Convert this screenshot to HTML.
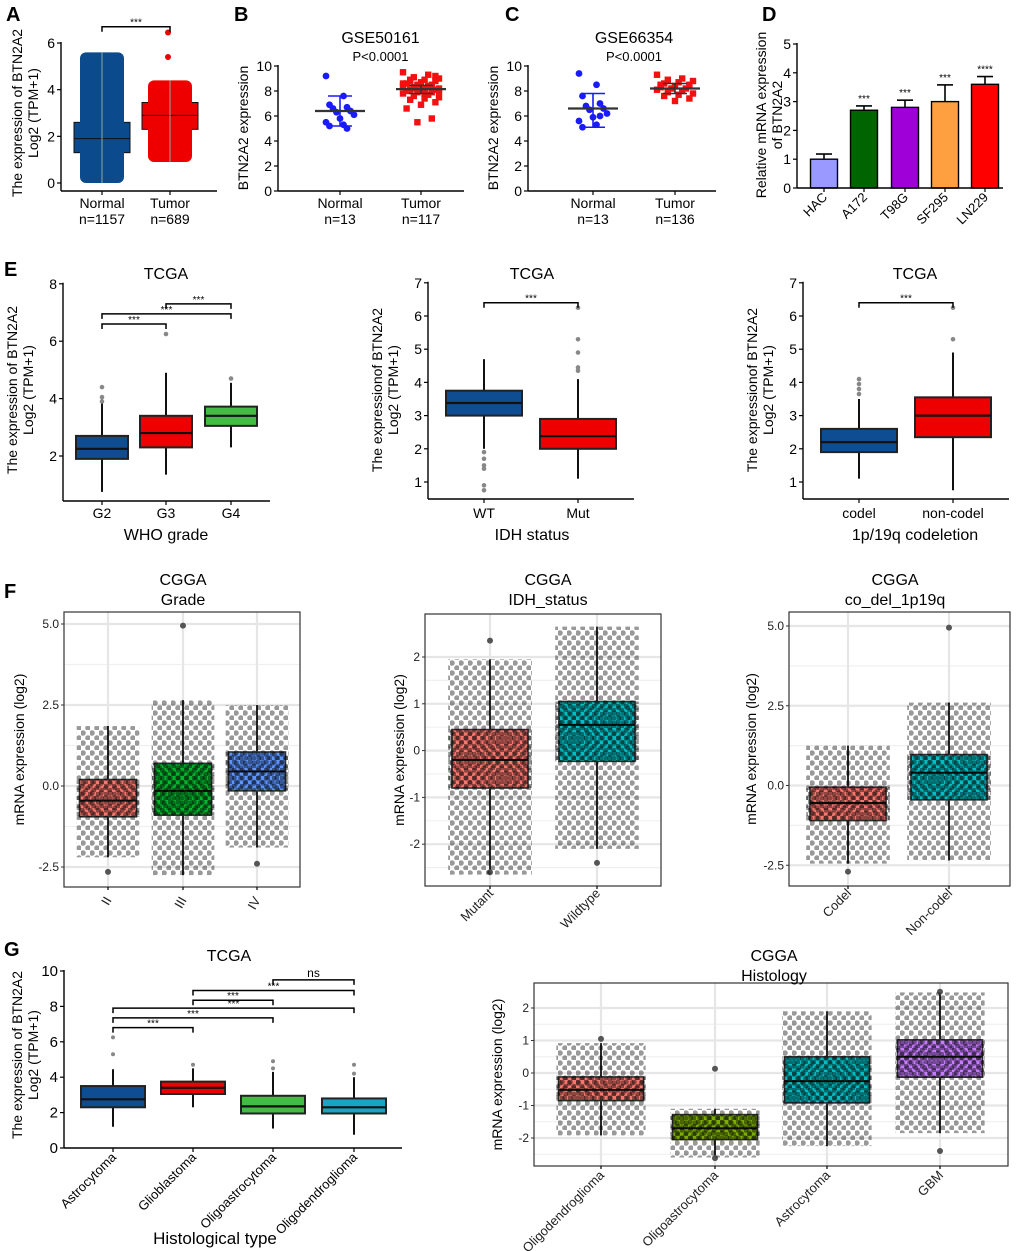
<!DOCTYPE html>
<html><head><meta charset="utf-8"><style>
body{margin:0;background:#fff}
svg{display:block;font-family:"Liberation Sans",sans-serif}
</style></head><body>
<svg id="fig" width="1020" height="1251" viewBox="0 0 1020 1251" xmlns="http://www.w3.org/2000/svg">
<defs>
<pattern id="dots" width="8" height="8" patternUnits="userSpaceOnUse">
<circle cx="2" cy="2" r="2.8" fill="#000" fill-opacity="0.42"/>
<circle cx="6" cy="6.5" r="2.8" fill="#000" fill-opacity="0.42"/>
</pattern>
<pattern id="dotsLight" width="9" height="10" patternUnits="userSpaceOnUse">
<circle cx="2" cy="3" r="2.8" fill="#000" fill-opacity="0.4"/>
<circle cx="7" cy="8" r="2.8" fill="#000" fill-opacity="0.4"/>
</pattern>
</defs>
<rect x="0" y="0" width="1020" height="1251" fill="#fff"/>
<g font-weight="bold" font-size="20">
<text x="6" y="21">A</text><text x="234" y="21">B</text><text x="505" y="21">C</text><text x="762" y="21">D</text>
<text x="4" y="276">E</text><text x="4" y="598">F</text><text x="4" y="956">G</text>
</g>
<g id="root"></g>
</svg>
<script>
// ---------- data ----------
const aCats=["Normal","Tumor"];const aLo=[0,0.9];const aQ1=[1.3,2.3];const aMed=[1.9,2.9];const aQ3=[2.6,3.45];const aHi=[5.6,4.4];
const aOut=[[],[5.4,6.45]];
const bNormal=[9.2,7.6,6.9,6.7,6.6,6.4,6.3,6.1,5.8,5.5,5.3,5.2,5.0];
const bTumor=[9.5,9.3,9.1,9.0,8.9,8.8,8.8,8.7,8.6,8.5,8.5,8.4,8.3,8.3,8.2,8.2,8.1,8.1,8.0,8.0,7.9,7.9,7.8,7.7,7.6,7.5,7.4,7.3,7.1,6.9,6.6,5.8,5.5,8.6,8.4,8.2,8.0,7.8,8.9,9.2];
const bMean=[6.4,8.15];const bLo=[5.2,7.8];const bHi=[7.6,8.45];
const cNormal=[9.4,8.5,7.6,7.0,6.8,6.6,6.5,6.2,5.9,5.6,5.3,5.1,6.0];
const cTumor=[9.3,9.0,8.9,8.8,8.7,8.6,8.5,8.4,8.3,8.2,8.2,8.1,8.0,7.9,7.8,7.7,7.6,7.4,7.2,8.5];
const cMean=[6.6,8.2];const cLo=[5.1,7.8];const cHi=[7.8,8.6];
const dCats=["HAC","A172","T98G","SF295","LN229"];const dVals=[1.0,2.7,2.8,3.0,3.6];const dErr=[0.18,0.15,0.25,0.58,0.27];
const dSig=["","***","***","***","****"];
const e1Cats=["G2","G3","G4"];const e1Lo=[0.75,1.35,2.3];const e1Q1=[1.9,2.3,3.05];const e1Med=[2.25,2.8,3.4];const e1Q3=[2.7,3.4,3.72];const e1Hi=[4.0,4.9,4.55];
const e1Out=[[3.9,4.05,4.4],[6.25],[4.7]];
const e2Cats=["WT","Mut"];const e2Lo=[2.0,1.1];const e2Q1=[3.0,2.0];const e2Med=[3.38,2.38];const e2Q3=[3.75,2.9];const e2Hi=[4.7,4.1];
const e2Out=[[0.75,0.9,1.4,1.5,1.7,1.9],[4.35,4.45,4.9,5.3,6.25]];
const e3Cats=["codel","non-codel"];const e3Lo=[1.1,0.75];const e3Q1=[1.9,2.35];const e3Med=[2.2,3.0];const e3Q3=[2.6,3.55];const e3Hi=[3.5,4.9];
const e3Out=[[3.65,3.8,3.95,4.1],[5.3,6.25]];
const f1Cats=["II","III","IV"];const f1Lo=[-2.2,-2.75,-1.9];const f1Q1=[-0.95,-0.9,-0.15];const f1Med=[-0.45,-0.15,0.45];const f1Q3=[0.2,0.7,1.05];const f1Hi=[1.85,2.65,2.5];
const f1Out=[[-2.65],[4.95],[-2.4]];
const f2Cats=["Mutant","Wildtype"];const f2Lo=[-2.65,-2.1];const f2Q1=[-0.8,-0.23];const f2Med=[-0.2,0.55];const f2Q3=[0.45,1.05];const f2Hi=[1.95,2.65];
const f2Out=[[2.35,-2.6],[-2.4]];
const f3Cats=["Codel","Non-codel"];const f3Lo=[-2.45,-2.35];const f3Q1=[-1.1,-0.45];const f3Med=[-0.55,0.4];const f3Q3=[-0.05,0.97];const f3Hi=[1.25,2.6];
const f3Out=[[-2.7],[4.95]];
const g1Cats=["Astrocytoma","Glioblastoma","Oligoastrocytoma","Oligodendroglioma"];
const g1Lo=[1.2,2.3,1.1,0.75];const g1Q1=[2.3,3.05,1.95,1.95];const g1Med=[2.75,3.4,2.35,2.3];const g1Q3=[3.5,3.75,2.95,2.8];const g1Hi=[4.45,4.5,4.3,4.0];
const g1Out=[[5.3,6.25],[4.7],[4.5,4.9],[4.2,4.7]];
const g2Cats=["Oligodendroglioma","Oligoastrocytoma","Astrocytoma","GBM"];
const g2Lo=[-1.92,-2.6,-2.25,-1.85];const g2Q1=[-0.85,-2.05,-0.92,-0.13];const g2Med=[-0.52,-1.7,-0.25,0.5];const g2Q3=[-0.12,-1.28,0.5,1.02];const g2Hi=[0.92,-1.1,1.9,2.48];
const g2Out=[[1.05],[0.13,-2.62],[],[2.5,-2.4]];
const aSig=[[0,1,6.7,"***"]];
const e1Sig=[[0,1,6.6,"***"],[0,2,6.95,"***"],[1,2,7.3,"***"]];
const e2Sig=[[0,1,6.4,"***"]];const e3Sig=[[0,1,6.4,"***"]];
const g1Sig=[[0,1,6.8,"***"],[0,2,7.35,"***"],[0,3,7.9,"***"],[1,2,8.35,"***"],[1,3,8.9,"***"],[2,3,9.5,"ns"]];
const e1Ticks=[2,4,6,8];const e23Ticks=[1,2,3,4,5,6,7];const g1Ticks=[0,2,4,6,8,10];
const fTicks=[-2.5,0,2.5,5];const f2Ticks=[-2,-1,0,1,2];

// ---------- helpers ----------
const NS="http://www.w3.org/2000/svg";const root=document.getElementById('root');
function el(tag,attrs,parent,txt){const e=document.createElementNS(NS,tag);for(const k in attrs)e.setAttribute(k,attrs[k]);if(txt!==undefined)e.textContent=txt;(parent||root).appendChild(e);return e;}
function grp(name){const g=document.createElementNS(NS,'g');


root.appendChild(g);return g;}
function scaleY(p){return v=>p.y0-(v-p.v0)*p.k;}
function fmt(v,p){return p.dec?v.toFixed(p.dec):String(v);}

function drawAxesPrism(p,g,ticks){const y=scaleY(p);
 el('line',{x1:p.ax,y1:y(ticks[ticks.length-1])-1,x2:p.ax,y2:p.xb,stroke:'#000','stroke-width':1.4},g);
 el('line',{x1:p.ax,y1:p.xb,x2:p.xr,y2:p.xb,stroke:'#000','stroke-width':1.4},g);
 ticks.forEach(t=>{el('line',{x1:p.ax-4,y1:y(t),x2:p.ax,y2:y(t),stroke:'#000','stroke-width':1.2},g);
  el('text',{x:p.ax-6,y:y(t)+5,'font-size':p.fs||14,'text-anchor':'end'},g,fmt(t,p));});}
function drawGG(p,g,ticks){const y=scaleY(p);
 el('rect',{x:p.px,y:p.py,width:p.pw,height:p.ph,fill:'#fff'},g);
 for(let i=0;i<ticks.length;i++){const t=ticks[i];
  if(i<ticks.length-1){const m=(t+ticks[i+1])/2;el('line',{x1:p.px,y1:y(m),x2:p.px+p.pw,y2:y(m),stroke:'#f0f0f0','stroke-width':1.2},g);}
  el('line',{x1:p.px,y1:y(t),x2:p.px+p.pw,y2:y(t),stroke:'#e6e6e6','stroke-width':2.2},g);}
 const lo=ticks[0]-(ticks[1]-ticks[0])/2;const ly=y(lo);if(ly<p.py+p.ph)el('line',{x1:p.px,y1:ly,x2:p.px+p.pw,y2:ly,stroke:'#f0f0f0','stroke-width':1.2},g);
 p.cx.forEach(cx=>el('line',{x1:cx,y1:p.py,x2:cx,y2:p.py+p.ph,stroke:'#e6e6e6','stroke-width':2.2},g));
 ticks.forEach(t=>{el('line',{x1:p.px-3,y1:y(t),x2:p.px,y2:y(t),stroke:'#333'},g);
  el('text',{x:p.px-5,y:y(t)+4,'font-size':12,'text-anchor':'end',fill:'#222'},g,fmt(t,p));});}
function drawBoxes(p,g,cats,lo,q1,med,q3,hi,out,cols,opts){const y=scaleY(p);opts=opts||{};
 cats.forEach((c,i)=>{const cx=p.cx[i],w=p.bw;
  el('line',{x1:cx,y1:y(lo[i]),x2:cx,y2:y(hi[i]),stroke:'#111','stroke-width':opts.ww||2},g);
  const r=el('rect',{x:cx-w/2,y:y(q3[i]),width:w,height:y(q1[i])-y(q3[i]),fill:cols[i],stroke:opts.bs||'#222','stroke-width':opts.bsw||2},g);
  
  
  el('line',{x1:cx-w/2,y1:y(med[i]),x2:cx+w/2,y2:y(med[i]),stroke:'#111','stroke-width':opts.mw||2.2},g);
  (out[i]||[]).forEach(v=>el('circle',{cx:cx,cy:y(v),r:opts.or||2,fill:opts.oc||'#888'},g));
  if(opts.cloud){const cw=w*(opts.cw||1.1);
   el('rect',{x:cx-cw/2,y:y(hi[i]),width:cw,height:y(lo[i])-y(hi[i]),fill:'url(#dotsLight)'},g);
   el('rect',{x:cx-cw/2,y:y(q3[i]),width:cw,height:y(q1[i])-y(q3[i]),fill:'url(#dots)'},g);}
 });}
function drawSig(p,g,sig){const y=scaleY(p);
 sig.forEach(s=>{const x1=p.cx[s[0]],x2=p.cx[s[1]],yy=y(s[2]);
  el('path',{d:`M${x1},${yy+5}V${yy}H${x2}V${yy+5}`,fill:'none',stroke:'#000','stroke-width':1.5},g);
  el('text',{x:(x1+x2)/2,y:yy-(s[3]==='ns'?3:1),'font-size':s[3]==='ns'?12:10,'text-anchor':'middle'},g,s[3]);});}
function ylabel(g,x,yc,lines,fs){lines.forEach((t,i)=>el('text',{x:0,y:0,transform:`translate(${x+i*(fs+2)},${yc}) rotate(-90)`,'font-size':fs,'text-anchor':'middle'},g,t));}
function xcat(p,g,cats,yy,fs){cats.forEach((c,i)=>el('text',{x:p.cx[i],y:yy,'font-size':fs||13,'text-anchor':'middle'},g,c));}
function xrot(p,g,cats,yy,ang,fs,col){cats.forEach((c,i)=>el('text',{x:0,y:0,transform:`translate(${p.cx[i]+4},${yy}) rotate(${ang})`,'font-size':fs,'text-anchor':'end',fill:col||'#000'},g,c));}
function ticksX(p,g,yy,len){p.cx.forEach(cx=>el('line',{x1:cx,y1:yy,x2:cx,y2:yy+len,stroke:'#000','stroke-width':1.2},g));}
function txt(g,x,y,s,fs,extra){const a=Object.assign({x:x,y:y,'font-size':fs,'text-anchor':'middle'},extra||{});return el('text',a,g,s);}

// ---------- Panel A ----------
(function(){const g=grp('panel-a');const p={ax:61,xb:191,xr:217,y0:183,v0:0,k:23.33,cx:[102,170],bw:56};const y=scaleY(p);
 drawAxesPrism(p,g,[0,2,4,6]);
 const cols=['#0b4a8c','#ee0000'];
 aCats.forEach((c,i)=>{const cx=p.cx[i];
  el('rect',{x:cx-28,y:y(aQ3[i]),width:56,height:y(aQ1[i])-y(aQ3[i]),fill:cols[i],stroke:'#111','stroke-width':1},g);
  const cl=el('rect',{x:cx-22,y:y(aHi[i]),width:44,height:y(aLo[i])-y(aHi[i]),fill:cols[i],rx:6},g);
  
  
  el('line',{x1:cx-28,y1:y(aMed[i]),x2:cx+28,y2:y(aMed[i]),stroke:'#111'},g);
  el('line',{x1:cx,y1:y(aLo[i]),x2:cx,y2:y(aHi[i]),stroke:'#8aa','stroke-width':1},g);
  aOut[i].forEach(v=>el('circle',{cx:cx-8+i*6,cy:y(v),r:3,fill:cols[i]},g));});
 drawSig(p,g,aSig);ticksX(p,g,191,4);
 aCats.forEach((c,i)=>{txt(g,p.cx[i],208,c,14);});txt(g,102,224,'n=1157',14);txt(g,170,224,'n=689',14);
 ylabel(g,22,113,['The expression of BTN2A2','Log2 (TPM+1)'],14);})();

// ---------- Panels B, C ----------
function dotPanel(name,p,normal,tumor,mean,lo,hi,title,nT){const g=grp(name);const y=scaleY(p);
 drawAxesPrism(p,g,[0,2,4,6,8,10]);ticksX(p,g,p.xb,4);
 normal.forEach((v,i)=>el('circle',{cx:p.cx[0]+((i*5)%9-4)*3.5,cy:y(v),r:3.4,fill:'#1a1aff'},g));
 tumor.forEach((v,i)=>el('rect',{x:p.cx[1]+((i*7)%11-5)*3.6-3.2,y:y(v)-3.2,width:6.4,height:6.4,fill:'#f41010'},g));
 [0,1].forEach(i=>{const cx=p.cx[i],c=i?'#333':'#1a1aff';
  el('line',{x1:cx,y1:y(lo[i]),x2:cx,y2:y(hi[i]),stroke:c,'stroke-width':1.6},g);
  el('line',{x1:cx-12,y1:y(lo[i]),x2:cx+12,y2:y(lo[i]),stroke:c,'stroke-width':1.6},g);
  el('line',{x1:cx-12,y1:y(hi[i]),x2:cx+12,y2:y(hi[i]),stroke:c,'stroke-width':1.6},g);
  el('line',{x1:cx-25,y1:y(mean[i]),x2:cx+25,y2:y(mean[i]),stroke:'#333','stroke-width':2.2},g);});
 txt(g,(p.cx[0]+p.cx[1])/2,43,title,16);txt(g,(p.cx[0]+p.cx[1])/2,61,'P<0.0001',13);
 txt(g,p.cx[0],208,'Normal',14);txt(g,p.cx[1],208,'Tumor',14);txt(g,p.cx[0],224,'n=13',14);txt(g,p.cx[1],224,nT,14);
 ylabel(g,p.ax-30,128,['BTN2A2 expression'],14);}
dotPanel('panel-b',{ax:278,xb:191,xr:464,y0:191,v0:0,k:12.5,cx:[340,421]},bNormal,bTumor,bMean,bLo,bHi,'GSE50161','n=117');
dotPanel('panel-c',{ax:528,xb:191,xr:716,y0:191,v0:0,k:12.5,cx:[593,675]},cNormal,cTumor,cMean,cLo,cHi,'GSE66354','n=136');

// ---------- Panel D ----------
(function(){const g=grp('panel-d');const p={ax:797,xb:188,xr:1003,y0:188,v0:0,k:28.8,cx:[824,864,905,945,985]};const y=scaleY(p);
 const cols=['#9999ff','#006400','#a000d8','#ffa040','#ff0000'];
 dVals.forEach((v,i)=>{const cx=p.cx[i];
  el('line',{x1:cx,y1:y(v),x2:cx,y2:y(v+dErr[i]),stroke:'#000','stroke-width':1.6},g);
  el('line',{x1:cx-8,y1:y(v+dErr[i]),x2:cx+8,y2:y(v+dErr[i]),stroke:'#000','stroke-width':1.6},g);
  const r=el('rect',{x:cx-13.5,y:y(v),width:27,height:y(0)-y(v),fill:cols[i],stroke:'#000','stroke-width':1.4},g);
  
  
  if(dSig[i])txt(g,cx,y(v+dErr[i])-4,dSig[i],10);});
 drawAxesPrism(p,g,[0,1,2,3,4,5]);ticksX(p,g,188,4);
 xrot(p,g,dCats,198,-45,13);
 ylabel(g,766,115,['Relative mRNA expression','of  BTN2A2'],14);})();

// ---------- Panel E ----------
function tcgaPanel(name,p,ticks,cats,lo,q1,med,q3,hi,out,cols,sig,xl,ylines){const g=grp(name);
 drawAxesPrism(p,g,ticks);ticksX(p,g,p.xb,4);
 drawBoxes(p,g,cats,lo,q1,med,q3,hi,out,cols,{ww:2,bsw:2,or:2.3});
 drawSig(p,g,sig);xcat(p,g,cats,518,14);txt(g,p.tx,540,xl,16);txt(g,p.tx,279,'TCGA',16);
 ylabel(g,p.ax-46,390,ylines,14);}
tcgaPanel('panel-e-who',{ax:63,xb:501,xr:270,y0:456,v0:2,k:28.7,cx:[102,166,231],bw:52,tx:166},e1Ticks,e1Cats,e1Lo,e1Q1,e1Med,e1Q3,e1Hi,e1Out,['#0e4d92','#ee0000','#44bb44'],e1Sig,'WHO grade',['The expression of BTN2A2','Log2 (TPM+1)']);
tcgaPanel('panel-e-idh',{ax:428,xb:499,xr:634,y0:482,v0:1,k:33.2,cx:[484,578],bw:76,tx:532},e23Ticks,e2Cats,e2Lo,e2Q1,e2Med,e2Q3,e2Hi,e2Out,['#0e4d92','#ee0000'],e2Sig,'IDH status',['The expressionof BTN2A2','Log2 (TPM+1)']);
tcgaPanel('panel-e-codel',{ax:803,xb:499,xr:1009,y0:482,v0:1,k:33.2,cx:[859,953],bw:76,tx:915},e23Ticks,e3Cats,e3Lo,e3Q1,e3Med,e3Q3,e3Hi,e3Out,['#0e4d92','#ee0000'],e3Sig,'1p/19q codeletion',['The expressionof BTN2A2','Log2 (TPM+1)']);

// ---------- Panel F ----------
function ggPanel(name,p,ticks,cats,lo,q1,med,q3,hi,out,cols,t1,t2,rotY,yl){const g=grp(name);
 drawGG(p,g,ticks);
 drawBoxes(p,g,cats,lo,q1,med,q3,hi,out,cols,{ww:1.8,bsw:1.6,bs:'#333',mw:2,or:3,oc:'#555',cloud:true,cw:p.cw||1.1});
 el('rect',{x:p.px,y:p.py,width:p.pw,height:p.ph,fill:'none',stroke:'#333','stroke-width':1.2},g);
 ticksX({cx:p.cx},g,p.py+p.ph,3);
 xrot(p,g,cats,rotY,p.ang||-60,13,'#222');
 txt(g,p.tx,p.ty,t1,16);txt(g,p.tx,p.ty+20,t2,16);
 ylabel(g,yl,p.py+p.ph/2,['mRNA expression (log2)'],14);}
ggPanel('panel-f-grade',{px:64,py:612,pw:236,ph:275,y0:624,v0:5,k:32.4,cx:[108,183,257],bw:57,tx:183,ty:585,dec:1},fTicks,f1Cats,f1Lo,f1Q1,f1Med,f1Q3,f1Hi,f1Out,['#f8766d','#00b82e','#5c95ff'],'CGGA','Grade',900,24);
ggPanel('panel-f-idh',{px:425,py:614,pw:236,ph:272,y0:657,v0:2,k:46.8,cx:[490,597],bw:76,tx:548,ty:585,ang:-45},f2Ticks,f2Cats,f2Lo,f2Q1,f2Med,f2Q3,f2Hi,f2Out,['#f8766d','#00bfc4'],'CGGA','IDH_status',894,404);
ggPanel('panel-f-codel',{px:789,py:612,pw:221,ph:274,y0:626,v0:5,k:31.9,cx:[848,949],bw:76,tx:895,ty:585,ang:-45,dec:1},fTicks,f3Cats,f3Lo,f3Q1,f3Med,f3Q3,f3Hi,f3Out,['#f8766d','#00bfc4'],'CGGA','co_del_1p19q',894,756);

// ---------- Panel G ----------
(function(){const g=grp('panel-g-tcga');const p={ax:64,xb:1148,xr:402,y0:1148,v0:0,k:17.7,cx:[113,193,273,354],bw:64,fs:15};
 drawAxesPrism(p,g,g1Ticks);ticksX(p,g,1148,4);
 drawBoxes(p,g,g1Cats,g1Lo,g1Q1,g1Med,g1Q3,g1Hi,g1Out,['#0e4d92','#ee0000','#44bb44','#1aa3c4'],{ww:2,bsw:2,or:2});
 drawSig(p,g,g1Sig);xrot(p,g,g1Cats,1158,-45,13);
 txt(g,229,961,'TCGA',16);txt(g,215,1244,'Histological type',17);
 ylabel(g,22,1055,['The expression of BTN2A2','Log2 (TPM+1)'],14);})();
ggPanel('panel-g-cgga',{px:534,py:983,pw:474,ph:183,y0:1008,v0:2,k:32.5,cx:[601,715,827,940],bw:85,tx:774,ty:961,ang:-45,cw:1.05},f2Ticks,g2Cats,g2Lo,g2Q1,g2Med,g2Q3,g2Hi,g2Out,['#f8766d','#7cae00','#00bfc4','#c77cff'],'CGGA','Histology',1176,502);
</script>
</body></html>
